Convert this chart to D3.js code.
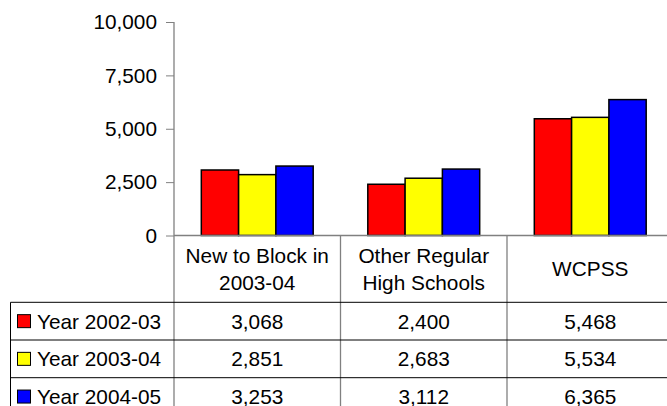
<!DOCTYPE html>
<html>
<head>
<meta charset="utf-8">
<script src="https://cdn.jsdelivr.net/npm/d3@7"></script>
<style>
  body { margin: 0; background: #fff; }
  svg { display: block; font-family: "Liberation Sans", Arial, sans-serif; }
</style>
</head>
<body>
<svg id="chart" width="667" height="406"></svg>
<script>
const categories = [["New to Block in", "2003-04"], ["Other Regular", "High Schools"], ["WCPSS"]];
const seriesNames = ["Year 2002-03", "Year 2003-04", "Year 2004-05"];
const seriesColors = ["#ff0000", "#ffff00", "#0000ff"];
const year0203 = [3068, 2400, 5468];
const year0304 = [2851, 2683, 5534];
const year0405 = [3253, 3112, 6365];
const yTicks = [0, 2500, 5000, 7500, 10000];

const series = [year0203, year0304, year0405];

const plotLeft = 174, colW = 166.5
  , yTop = 22, yBottom = 235.5
  , headerBottom = 302.3, rowH = 37.7
  , tableLeft = 10.5;

const svg = d3.select("#chart");
const fontSize = 20.8;

const xScale = d3.scaleBand()
  .domain(d3.range(categories.length))
  .range([plotLeft, plotLeft + colW * categories.length])
  .padding(0);

const xInner = d3.scaleBand()
  .domain(d3.range(series.length))
  .range([colW * 0.164, colW * 0.836])
  .padding(0);

const yScale = d3.scaleLinear()
  .domain([0, 10000])
  .range([yBottom, yTop]);

// y axis
const yAxis = d3.axisLeft(yScale)
  .tickValues(yTicks)
  .tickFormat(d3.format(","))
  .tickSize(8)
  .tickPadding(9);

const yg = svg.append("g")
  .attr("transform", "translate(" + plotLeft + ",0)")
  .call(yAxis);
yg.select(".domain").remove();
yg.selectAll("line").attr("stroke", "#808080");
yg.selectAll("text")
  .attr("font-size", fontSize)
  .attr("fill", "#000")
  .style("font-family", "Liberation Sans, Arial, sans-serif");

// bars
categories.forEach((c, i) => {
  const g = svg.append("g")
    .attr("transform", "translate(" + xScale(i) + ",0)");
  g.selectAll("rect")
    .data(series.map((s, j) => ({ j: j, v: s[i] })))
    .enter().append("rect")
    .attr("x", d => xInner(d.j))
    .attr("width", xInner.bandwidth())
    .attr("y", d => yScale(d.v))
    .attr("height", d => yBottom - yScale(d.v))
    .attr("fill", d => seriesColors[d.j])
    .attr("stroke", "#000")
    .attr("stroke-width", 1.5);
});

// axis lines
svg.append("line")
  .attr("x1", plotLeft).attr("x2", 667)
  .attr("y1", yBottom).attr("y2", yBottom)
  .attr("stroke", "#808080").attr("stroke-width", 1.3);

const tableBottom = headerBottom + rowH * series.length;

svg.append("line")
  .attr("x1", plotLeft).attr("x2", plotLeft)
  .attr("y1", yTop).attr("y2", tableBottom)
  .attr("stroke", "#808080").attr("stroke-width", 1.3);

// category dividers
d3.range(1, categories.length).forEach(i => {
  svg.append("line")
    .attr("x1", xScale(i)).attr("x2", xScale(i))
    .attr("y1", yBottom).attr("y2", tableBottom)
    .attr("stroke", "#808080").attr("stroke-width", 1.3);
});

// category labels
categories.forEach((lines, i) => {
  const cx = xScale(i) + colW / 2;
  const cy = (yBottom + headerBottom) / 2;
  const lh = 27;
  lines.forEach((t, k) => {
    svg.append("text")
      .attr("x", cx)
      .attr("y", cy + (k - (lines.length - 1) / 2) * lh)
      .attr("dy", "0.36em")
      .attr("text-anchor", "middle")
      .attr("font-size", fontSize)
      .text(t);
  });
});

// table horizontal lines
d3.range(series.length + 1).forEach(r => {
  svg.append("line")
    .attr("x1", tableLeft).attr("x2", 667)
    .attr("y1", headerBottom + r * rowH).attr("y2", headerBottom + r * rowH)
    .attr("stroke", "#000").attr("stroke-width", 1);
});
svg.append("line")
  .attr("x1", tableLeft).attr("x2", tableLeft)
  .attr("y1", headerBottom).attr("y2", tableBottom)
  .attr("stroke", "#000").attr("stroke-width", 1);

// table rows
series.forEach((s, j) => {
  const cy = headerBottom + j * rowH + rowH / 2;
  svg.append("rect")
    .attr("x", 17.5).attr("y", cy - 6.5)
    .attr("width", 13).attr("height", 13)
    .attr("fill", seriesColors[j])
    .attr("stroke", "#000").attr("stroke-width", 1);
  svg.append("text")
    .attr("x", 37).attr("y", cy)
    .attr("dy", "0.36em")
    .attr("font-size", fontSize)
    .text(seriesNames[j]);
  s.forEach((v, i) => {
    svg.append("text")
      .attr("x", xScale(i) + colW / 2)
      .attr("y", cy)
      .attr("dy", "0.36em")
      .attr("text-anchor", "middle")
      .attr("font-size", fontSize)
      .text(d3.format(",")(v));
  });
});
</script>
</body>
</html>
